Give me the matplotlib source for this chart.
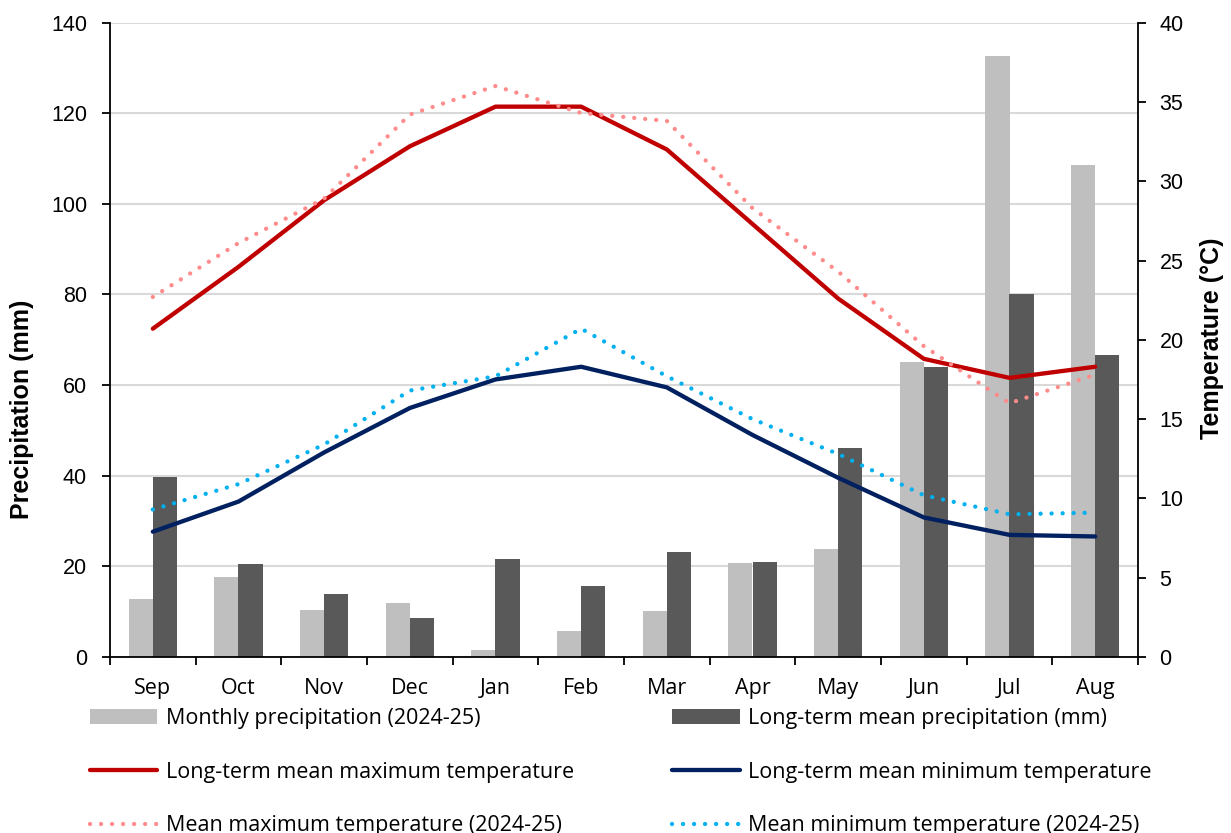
import numpy as np
import matplotlib.pyplot as plt
from matplotlib.ticker import MultipleLocator, FixedLocator

# data
months = ["Sep", "Oct", "Nov", "Dec", "Jan", "Feb", "Mar", "Apr", "May", "Jun", "Jul", "Aug"]
precip_2024 = [12.9, 17.6, 10.4, 12.0, 1.6, 5.7, 10.1, 20.7, 23.9, 65.1, 132.6, 108.5]
precip_lt = [39.7, 20.6, 14.0, 8.7, 21.7, 15.7, 23.2, 20.9, 46.1, 64.0, 80.2, 66.6]
tmax_lt = [20.7, 24.6, 28.8, 32.2, 34.7, 34.7, 32.0, 27.3, 22.6, 18.8, 17.6, 18.3]
tmin_lt = [7.9, 9.8, 12.9, 15.7, 17.5, 18.3, 17.0, 14.0, 11.3, 8.8, 7.7, 7.6]
tmax_2024 = [22.7, 26.1, 28.9, 34.2, 36.0, 34.3, 33.8, 28.3, 24.3, 19.6, 16.0, 17.8]
tmin_2024 = [9.3, 10.9, 13.4, 16.8, 17.7, 20.7, 17.7, 15.0, 12.8, 10.2, 9.0, 9.1]

tick_font = "Liberation Sans"
text_font = "Open Sans"

fig = plt.figure(figsize=(12.31, 8.33), dpi=100)
ax = fig.add_axes([110 / 1231, 1 - 657 / 833, (1138 - 110) / 1231, (657 - 22.6) / 833])
ax2 = ax.twinx()

x = np.arange(len(months))
w = 0.284
b1 = ax.bar(x - w / 2, precip_2024, w, color="#BFBFBF", zorder=2,
            label="Monthly precipitation (2024-25)")
b2 = ax.bar(x + w / 2, precip_lt, w, color="#595959", zorder=2,
            label="Long-term mean precipitation (mm)")

ax.set_xlim(-0.5, 11.5)
ax.set_ylim(0, 140)
ax.yaxis.set_major_locator(MultipleLocator(20))
ax.grid(axis="y", color="#D9D9D9", linewidth=1.5, zorder=0)
ax.set_axisbelow(True)

lw = 3.1
dots = (0, (0.01, 2.55))
l1, = ax2.plot(x, tmax_lt, color="#C00000", lw=lw, solid_capstyle="round",
               solid_joinstyle="round", label="Long-term mean maximum temperature")
l2, = ax2.plot(x, tmin_lt, color="#002060", lw=lw, solid_capstyle="round",
               solid_joinstyle="round", label="Long-term mean minimum temperature")
l3, = ax2.plot(x, tmax_2024, color="#FF8B8B", lw=lw, linestyle=dots,
               dash_capstyle="round", label="Mean maximum temperature (2024-25)")
l4, = ax2.plot(x, tmin_2024, color="#00B0F0", lw=lw, linestyle=dots,
               dash_capstyle="round", label="Mean minimum temperature (2024-25)")
ax2.set_ylim(0, 40)
ax2.yaxis.set_major_locator(MultipleLocator(5))

for a in (ax, ax2):
    a.spines["top"].set_visible(False)
    for s in ("left", "right", "bottom"):
        a.spines[s].set_linewidth(1.3)
ax.spines["right"].set_visible(False)
ax2.spines["left"].set_visible(False)
ax2.spines["bottom"].set_visible(False)

ax.set_xticks(x)
ax.set_xticklabels(months, fontfamily=text_font, fontsize=15.5)
ax.xaxis.set_minor_locator(FixedLocator(np.arange(-0.5, 12, 1)))
ax.tick_params(axis="x", which="major", length=0, pad=15)
ax.tick_params(axis="x", which="minor", length=5.5, width=1.3, direction="out")
ax.tick_params(axis="y", length=5.5, width=1.3, pad=11, labelsize=15.5)
ax2.tick_params(axis="y", length=5.5, width=1.3, pad=10, labelsize=15.5)
for lab in ax.get_yticklabels() + ax2.get_yticklabels():
    lab.set_fontfamily(tick_font)

ax.set_ylabel("Precipitation (mm)", fontfamily=tick_font, fontsize=18,
              fontweight="bold")
ax2.set_ylabel("Temperature (°C)", fontfamily=tick_font, fontsize=18,
               fontweight="bold", rotation=90)
ax.yaxis.set_label_coords((22 - 110) / 1028, (657 - 409) / 634.4)
ax2.yaxis.set_label_coords((1212 - 110) / 1028, (657 - 338) / 634.4)
ax.yaxis.label.set_va("center")
ax2.yaxis.label.set_va("center")

handles = [b1, l1, l3, b2, l2, l4]
fig.legend(handles=handles, labels=[h.get_label() for h in handles], ncol=2,
           loc="upper left", bbox_to_anchor=(90 / 1231, 1 - 708 / 833),
           frameon=False, prop={"family": text_font, "size": 15.5},
           handlelength=3.13, handletextpad=0.41, columnspacing=4.55,
           labelspacing=1.52, borderaxespad=0, borderpad=0)

fig.savefig("out.png", dpi=100)
